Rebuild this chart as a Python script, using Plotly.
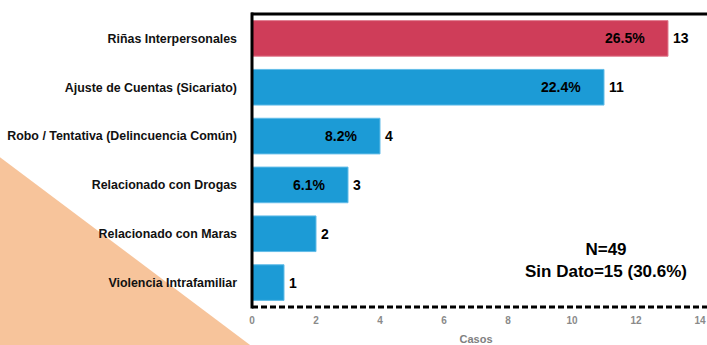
import plotly.graph_objects as go

categories = [
    "Riñas Interpersonales",
    "Ajuste de Cuentas (Sicariato)",
    "Robo / Tentativa (Delincuencia Común)",
    "Relacionado con Drogas",
    "Relacionado con Maras",
    "Violencia Intrafamiliar",
]
casos = [13, 11, 4, 3, 2, 1]
porcentajes = ["26.5%", "22.4%", "8.2%", "6.1%", "", ""]
tick_vals = [0, 2, 4, 6, 8, 10, 12, 14]

FONT = "Liberation Sans, Arial, sans-serif"
bar_colors = ["#CF3D59"] + ["#1C9BD6"] * (len(casos) - 1)
line_colors = ["#E27F92"] + ["#62BCE8"] * (len(casos) - 1)

fig = go.Figure()

fig.add_trace(go.Bar(
    y=categories,
    x=casos,
    orientation="h",
    width=0.73,
    marker=dict(color=bar_colors, line=dict(color=line_colors, width=1)),
    showlegend=False,
))

# percentage inside the bar end, count just outside
for cat, val, pct in zip(categories, casos, porcentajes):
    if pct:
        fig.add_annotation(
            x=val, y=cat, text=f"<b>{pct}</b>", showarrow=False,
            xanchor="right", xshift=-21,
            font=dict(family=FONT, size=14, color="black"),
        )
    fig.add_annotation(
        x=val, y=cat, text=f"<b>{val}</b>", showarrow=False,
        xanchor="left", xshift=3,
        font=dict(family=FONT, size=14, color="black"),
    )

fig.add_annotation(
    x=0.79, y=0.157, xref="paper", yref="paper", xanchor="center", yanchor="middle",
    text="<b>N=49<br>Sin Dato=15 (30.6%)</b>", showarrow=False,
    align="center", font=dict(family=FONT, size=17, color="black"),
)

# orange background triangle (bottom-left)
fig.add_shape(
    type="path", xref="paper", yref="paper", layer="below",
    path="M -0.57 0.52 L -0.004 -0.13 L -0.57 -0.13 Z",
    fillcolor="#F7C49B", line=dict(width=0),
)
# frame: top and left solid, bottom dashed
fig.add_shape(type="line", xref="paper", yref="paper", x0=-0.002, x1=1.02, y0=1, y1=1,
              line=dict(color="black", width=3))
fig.add_shape(type="line", xref="paper", yref="paper", x0=0, x1=0, y0=-0.005, y1=1.005,
              line=dict(color="black", width=3))
fig.add_shape(type="line", xref="paper", yref="paper", x0=0, x1=1.02, y0=0, y1=0,
              line=dict(color="black", width=3, dash="6px,3px"))

fig.update_layout(
    width=707, height=345,
    margin=dict(l=252, r=7, t=14, b=38),
    paper_bgcolor="white",
    plot_bgcolor="rgba(0,0,0,0)",
    font=dict(family=FONT),
)
fig.update_xaxes(
    range=[0, 14], tickvals=tick_vals, showgrid=False, zeroline=False,
    showline=False, ticks="", automargin=False, ticklabelstandoff=6,
    tickfont=dict(family=FONT, size=10, color="#8A8A8A", weight="bold"),
    title=dict(text="<b>Casos</b>", font=dict(family=FONT, size=11, color="#808080"), standoff=10),
)
fig.update_yaxes(
    autorange="reversed", showgrid=False, zeroline=False, showline=False,
    ticks="", ticklabelstandoff=14, automargin=False,
    tickfont=dict(family=FONT, size=12.4, color="#111111", weight="bold"),
)

# remove the default page margin so the figure sits at the window corner
fig.write_html(
    "out.html",
    config={"displayModeBar": False},
    post_script="document.body.style.margin='0px';",
)
